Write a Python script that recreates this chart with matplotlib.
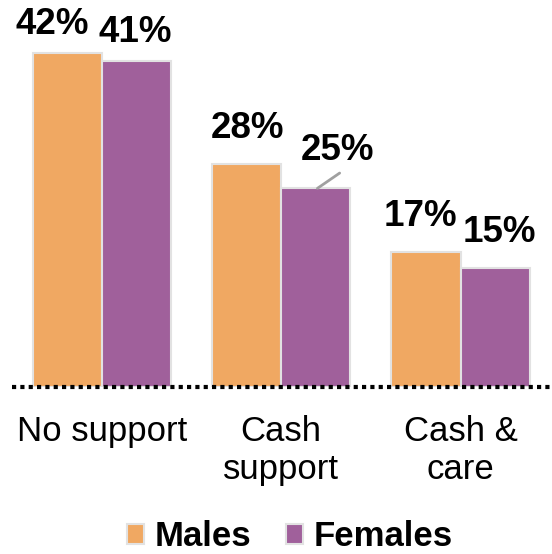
import matplotlib.pyplot as plt
import numpy as np
from matplotlib.patches import Patch

categories = ['No support', 'Cash\nsupport', 'Cash &\ncare']
males = [42, 28, 17]
females = [41, 25, 15]
series_names = ['Males', 'Females']

ORANGE = '#F0A862'
PURPLE = '#A0609B'
EDGE = '#E2E2E2'

plt.rcParams['font.family'] = ['Liberation Sans', 'DejaVu Sans']

fig = plt.figure(figsize=(5.52, 5.54), dpi=100)
ax = fig.add_axes([12 / 552, 1 - 387 / 554, 540 / 552, 387 / 554])

x = np.arange(len(categories))
w = 0.385
ax.bar(x - w / 2, males, w, color=ORANGE, edgecolor=EDGE, linewidth=1.5)
ax.bar(x + w / 2, females, w, color=PURPLE, edgecolor=EDGE, linewidth=1.5)

# label offsets (points) per bar, to mimic the hand-placed labels
m_off = [(-11, 8), (1, 13), (-4, 13)]
f_off = [(-1, 8), (16, 15), (3, 13)]
for i in range(len(categories)):
    ax.annotate(f'{males[i]}%', (x[i] - w / 2, males[i]), xytext=m_off[i],
                textcoords='offset points', ha='center', va='bottom',
                fontsize=26.5, fontweight='bold')
    ax.annotate(f'{females[i]}%', (x[i] + w / 2, females[i]), xytext=f_off[i],
                textcoords='offset points', ha='center', va='bottom',
                fontsize=26.5, fontweight='bold')

# leader line for the 25% label
ax.annotate('', (x[1] + w / 2 + 0.01, females[1]), xytext=(16, 11),
            textcoords='offset points',
            arrowprops=dict(arrowstyle='-', color='#A0A0A0', lw=2,
                            shrinkA=0, shrinkB=0))

ax.axhline(0, color='black', linestyle=(0, (1, 1)), linewidth=3, clip_on=False)
ax.set_xlim(-0.5, 2.51)
ax.set_ylim(0, 48.7)
ax.set_xticks(x)
ax.set_xticklabels(categories, fontsize=25, linespacing=1.22)
ax.tick_params(axis='x', length=0, pad=20)
ax.set_yticks([])
for s in ax.spines.values():
    s.set_visible(False)

handles = [Patch(facecolor=ORANGE, edgecolor=EDGE, linewidth=1.5),
           Patch(facecolor=PURPLE, edgecolor=EDGE, linewidth=1.5)]
fig.legend(handles, series_names, loc='lower center', bbox_to_anchor=(0.525, -0.055),
           ncol=2, frameon=False, prop={'size': 25, 'weight': 'bold'},
           handlelength=0.5, handleheight=0.5, handletextpad=0.3,
           columnspacing=1.0)

fig.savefig('out.png', dpi=100)
